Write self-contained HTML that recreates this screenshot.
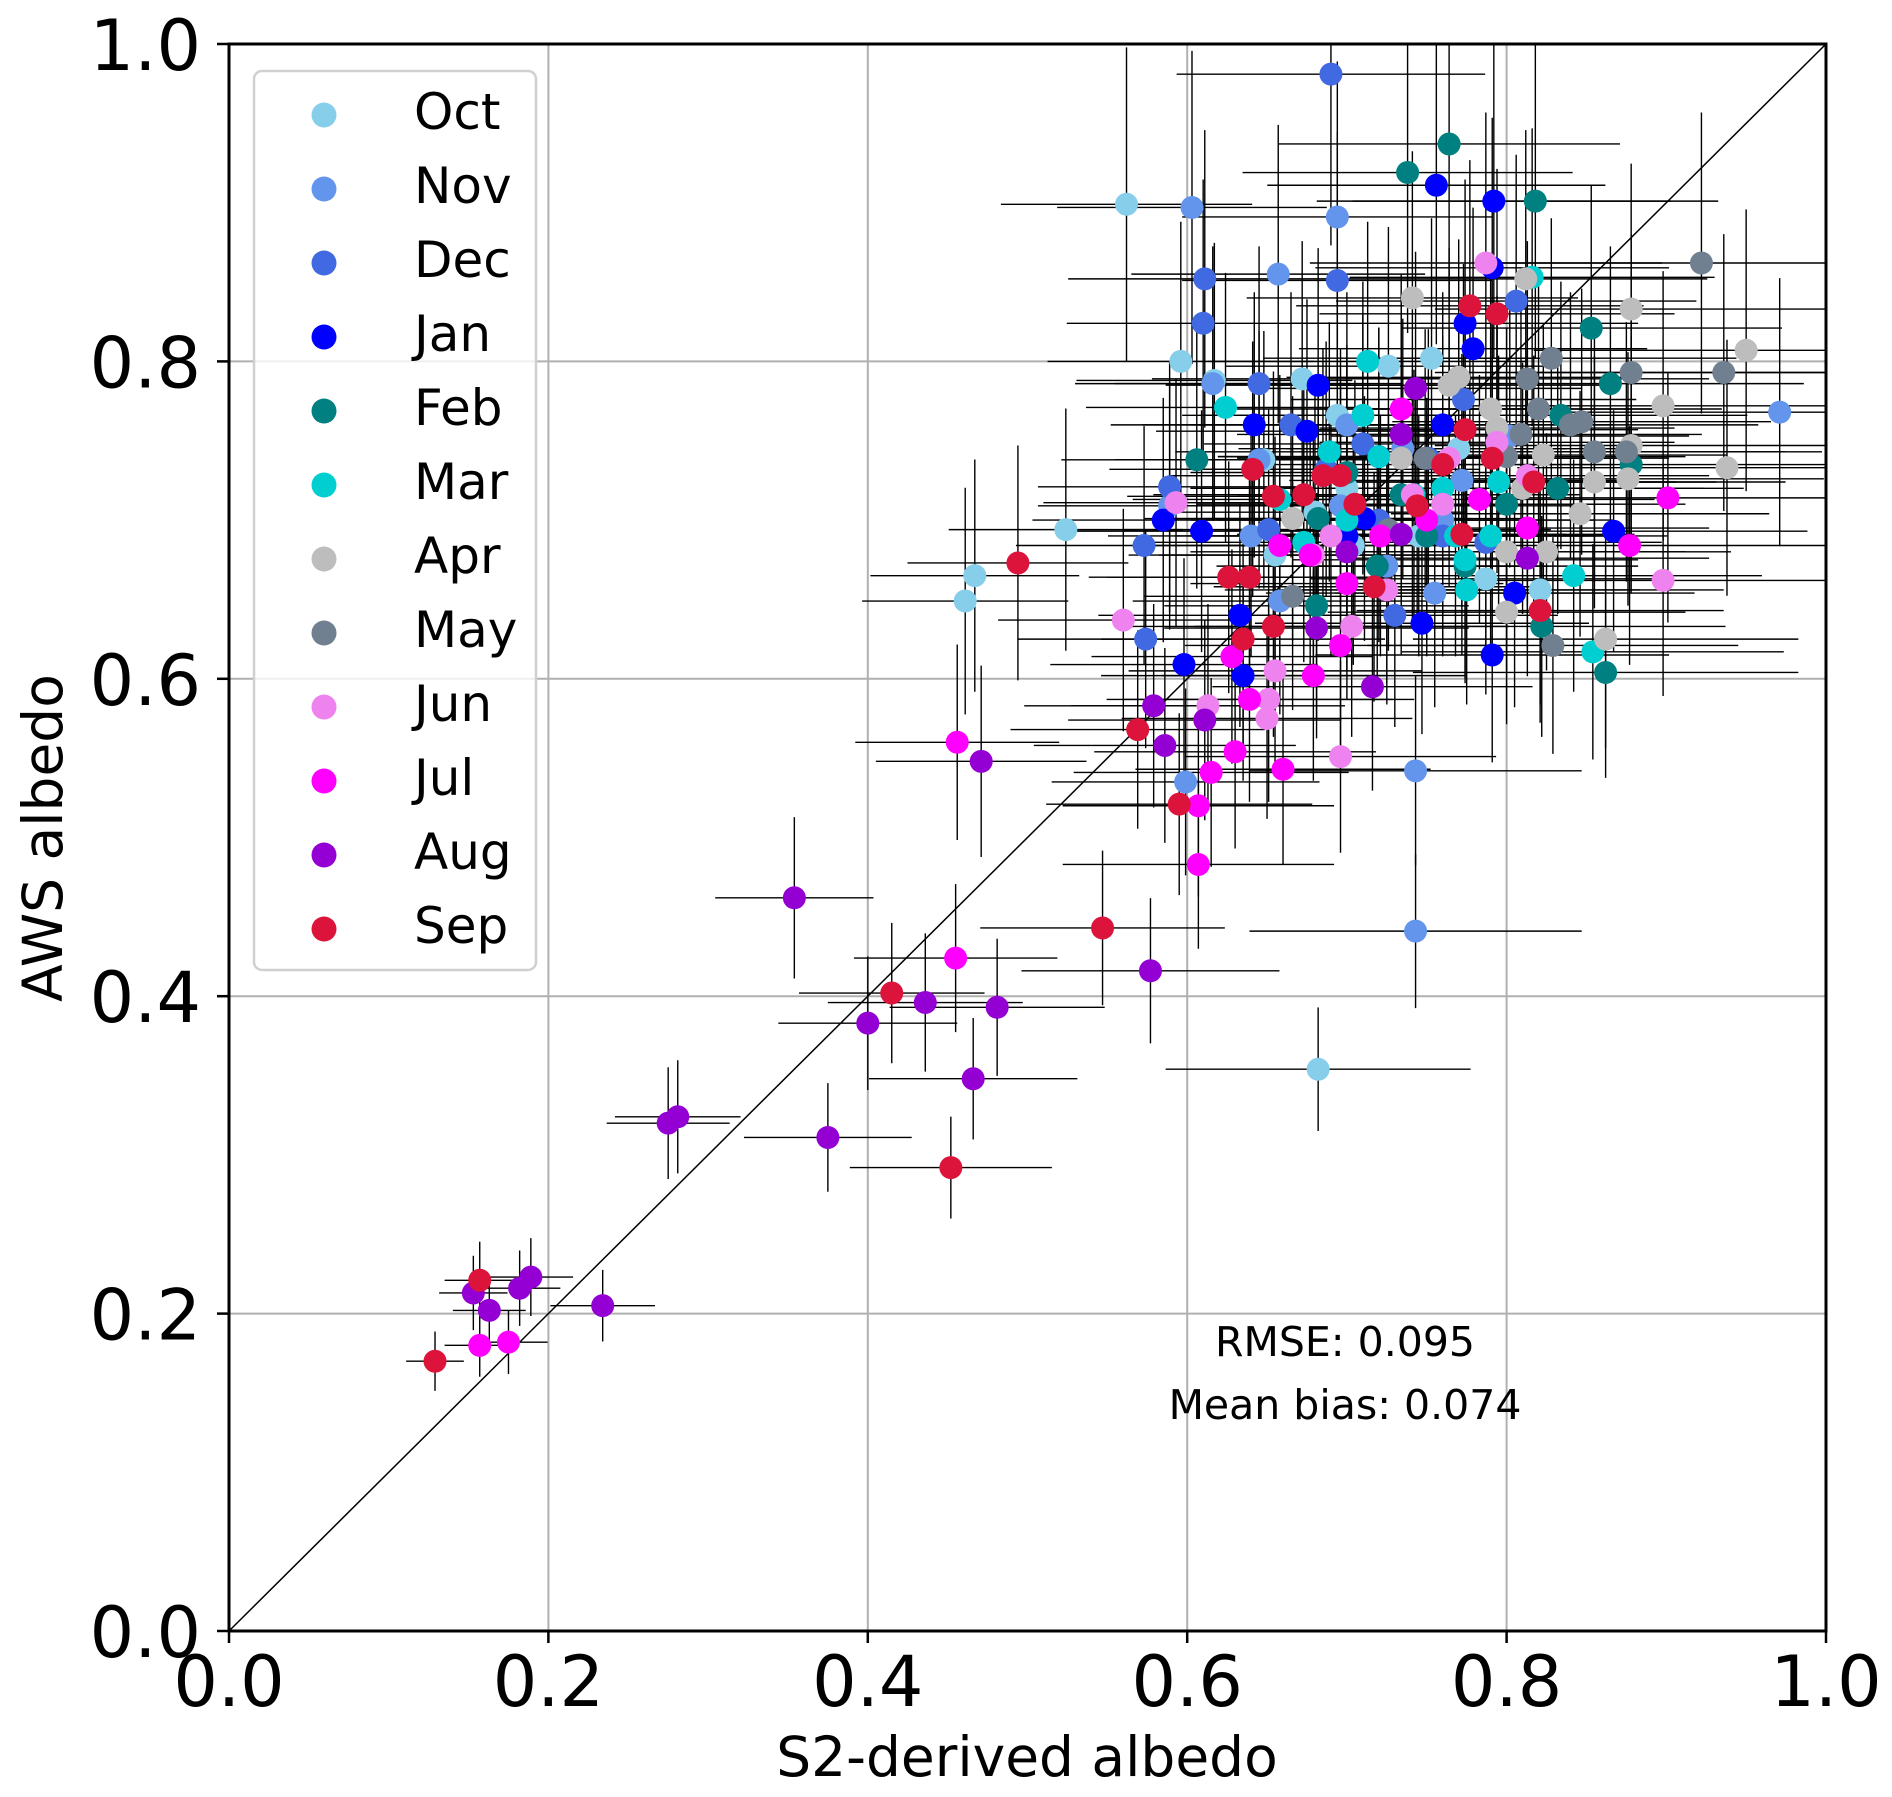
<!DOCTYPE html>
<html><head><meta charset="utf-8"><style>
html,body{margin:0;padding:0;background:#fff;}
svg{display:block;font-family:"DejaVu Sans","Liberation Sans",sans-serif;}
</style></head><body>
<svg id="chart" width="1892" height="1797" viewBox="0 0 1892 1797" xmlns="http://www.w3.org/2000/svg">
<g id="grid"></g>
<g id="errs"></g>
<line id="oneline" stroke="#000" stroke-width="1.5"/>
<g id="pts"></g>
<g id="axes"></g>
<g id="legend"></g>
<text x="1345" y="1356" font-size="41" text-anchor="middle">RMSE: 0.095</text>
<text x="1345" y="1419" font-size="41" text-anchor="middle">Mean bias: 0.074</text>
<text x="1027" y="1776" font-size="55" text-anchor="middle">S2-derived albedo</text>
<text x="0" y="0" font-size="55" text-anchor="middle" transform="translate(62,838) rotate(-90)">AWS albedo</text>
</svg>
<script>
const months = ["Oct","Nov","Dec","Jan","Feb","Mar","Apr","May","Jun","Jul","Aug","Sep"];
const colors = ["#87CEEB","#6495ED","#4169E1","#0000FF","#008080","#00CED1","#BDBDBD","#708090","#EE82EE","#FF00FF","#9400D3","#DC143C"];
const xTicks = [0,0.2,0.4,0.6,0.8,1.0];
const yTicks = [0,0.2,0.4,0.6,0.8,1.0];
const tickLabels = ["0.0","0.2","0.4","0.6","0.8","1.0"];
const octPts = [[.562,.899],[.524,.694],[.467,.665],[.461,.649],[.682,.354],[.596,.800],[.617,.788],[.672,.789],[.694,.766],[.726,.797],[.753,.802],[.821,.656],[.787,.663],[.655,.678],[.648,.738],[.704,.684],[.700,.720],[.745,.690],[.770,.745],[.680,.705]];
const novPts = [[.603,.897],[.657,.855],[.694,.891],[.971,.768],[.743,.542],[.743,.441],[.599,.535],[.616,.786],[.645,.738],[.696,.709],[.725,.671],[.755,.654],[.772,.725],[.802,.753],[.589,.709],[.658,.649],[.700,.760],[.760,.700],[.640,.690],[.735,.745]];
const decPts = [[.690,.981],[.611,.852],[.610,.824],[.694,.851],[.574,.625],[.573,.684],[.589,.721],[.645,.786],[.710,.748],[.773,.776],[.806,.838],[.787,.686],[.730,.640],[.651,.694],[.751,.739],[.687,.732],[.720,.700],[.665,.760],[.760,.690]];
const janPts = [[.756,.911],[.792,.901],[.791,.859],[.774,.824],[.682,.785],[.675,.756],[.642,.760],[.585,.700],[.609,.693],[.598,.609],[.633,.640],[.711,.701],[.791,.615],[.747,.635],[.805,.654],[.867,.693],[.635,.602],[.779,.808],[.720,.740],[.700,.690],[.760,.760]];
const febPts = [[.738,.919],[.764,.937],[.818,.901],[.853,.821],[.865,.786],[.862,.604],[.834,.766],[.822,.633],[.681,.646],[.606,.738],[.682,.701],[.734,.716],[.774,.671],[.878,.735],[.832,.720],[.719,.671],[.700,.730],[.750,.690],[.800,.710]];
const marPts = [[.816,.853],[.624,.771],[.710,.766],[.713,.800],[.842,.665],[.854,.617],[.795,.724],[.742,.716],[.774,.675],[.689,.743],[.658,.713],[.768,.690],[.775,.656],[.673,.686],[.720,.740],[.760,.720],[.700,.700],[.790,.690]];
const aprPts = [[.741,.840],[.812,.852],[.878,.833],[.950,.807],[.898,.772],[.938,.733],[.862,.625],[.800,.642],[.823,.741],[.855,.724],[.846,.704],[.878,.747],[.764,.785],[.794,.758],[.666,.701],[.734,.739],[.825,.680],[.876,.726],[.790,.770],[.810,.720],[.770,.790],[.800,.680]];
const mayPts = [[.922,.862],[.936,.793],[.878,.793],[.828,.802],[.813,.789],[.847,.762],[.829,.621],[.875,.743],[.749,.739],[.666,.652],[.809,.754],[.726,.694],[.855,.743],[.840,.760],[.800,.740],[.820,.770]];
const junPts = [[.787,.862],[.560,.637],[.593,.711],[.696,.551],[.655,.605],[.650,.575],[.794,.749],[.679,.678],[.764,.739],[.725,.656],[.898,.662],[.813,.728],[.613,.583],[.703,.633],[.741,.716],[.651,.587],[.690,.690],[.760,.710]];
const julPts = [[.456,.560],[.455,.424],[.607,.483],[.615,.541],[.639,.587],[.630,.554],[.660,.543],[.679,.602],[.696,.621],[.721,.690],[.901,.714],[.877,.684],[.734,.770],[.783,.713],[.813,.695],[.658,.684],[.628,.614],[.677,.678],[.157,.180],[.175,.182],[.607,.520],[.700,.660],[.750,.700]];
const augPts = [[.354,.462],[.400,.383],[.436,.396],[.481,.393],[.466,.348],[.471,.548],[.375,.311],[.275,.320],[.281,.324],[.234,.205],[.153,.213],[.163,.202],[.182,.216],[.189,.223],[.577,.416],[.579,.583],[.586,.558],[.611,.574],[.716,.595],[.681,.632],[.743,.783],[.734,.691],[.813,.676],[.734,.754],[.700,.680]];
const sepPts = [[.494,.673],[.415,.402],[.547,.443],[.452,.292],[.157,.221],[.129,.170],[.595,.521],[.569,.568],[.641,.732],[.654,.715],[.673,.716],[.696,.728],[.777,.835],[.794,.830],[.774,.757],[.791,.739],[.817,.724],[.821,.643],[.626,.664],[.639,.664],[.654,.633],[.717,.658],[.744,.709],[.772,.691],[.635,.625],[.685,.728],[.760,.735],[.705,.710]];
const series = [octPts,novPts,decPts,janPts,febPts,marPts,aprPts,mayPts,junPts,julPts,augPts,sepPts];

const X0=229,X1=1826,Y0=1631,Y1=44;
const sx = v => X0 + v*(X1-X0);
const sy = v => Y0 - v*(Y0-Y1);
const NS="http://www.w3.org/2000/svg";
function mk(tag, attrs, parent){const e=document.createElementNS(NS,tag);for(const k in attrs)e.setAttribute(k,attrs[k]);parent.appendChild(e);return e;}

const grid=document.getElementById('grid');
xTicks.forEach((t,i)=>{
  const l=mk('line',{x1:sx(t),x2:sx(t),y1:Y0,y2:Y1,stroke:'#b0b0b0','stroke-width':2},grid);
  
  
});
yTicks.forEach((t,i)=>{
  const l=mk('line',{x1:X0,x2:X1,y1:sy(t),y2:sy(t),stroke:'#b0b0b0','stroke-width':2},grid);
  
  
});

const ol=document.getElementById('oneline');
ol.setAttribute('x1',sx(0));ol.setAttribute('y1',sy(0));ol.setAttribute('x2',sx(1));ol.setAttribute('y2',sy(1));

const errs=document.getElementById('errs');
const pts=document.getElementById('pts');
series.forEach((arr,m)=>{
  arr.forEach(p=>{
    const ex=0.14*p[0], ey=0.11*p[1];
    const h=mk('line',{x1:sx(Math.max(0,p[0]-ex)),x2:sx(Math.min(1,p[0]+ex)),y1:sy(p[1]),y2:sy(p[1]),stroke:'#000','stroke-width':1.4},errs);
    
    
    const v=mk('line',{x1:sx(p[0]),x2:sx(p[0]),y1:sy(Math.max(0,p[1]-ey)),y2:sy(Math.min(1,p[1]+ey)),stroke:'#000','stroke-width':1.4},errs);
    
    
  });
});
series.forEach((arr,m)=>{
  arr.forEach(p=>{
    const c=mk('circle',{cx:sx(p[0]),cy:sy(p[1]),r:11.5,fill:colors[m]},pts);
    
    
  });
});

const axes=document.getElementById('axes');
const fr=mk('rect',{x:X0,y:Y1,width:X1-X0,height:Y0-Y1,fill:'none',stroke:'#000','stroke-width':3},axes);


xTicks.forEach((t,i)=>{
  mk('line',{x1:sx(t),x2:sx(t),y1:Y0,y2:Y0+12,stroke:'#000','stroke-width':2.5},axes);
  const tx=mk('text',{x:sx(t),y:1706,'font-size':70,'text-anchor':'middle'},axes);
  tx.textContent=tickLabels[i];
  
  
});
yTicks.forEach((t,i)=>{
  mk('line',{x1:X0-12,x2:X0,y1:sy(t),y2:sy(t),stroke:'#000','stroke-width':2.5},axes);
  const tx=mk('text',{x:201,y:sy(t)+26,'font-size':70,'text-anchor':'end'},axes);
  tx.textContent=tickLabels[i];
  
  
});

const lg=document.getElementById('legend');
const box=mk('rect',{x:254,y:71,width:282,height:899,rx:8,fill:'#fff','fill-opacity':0.8,stroke:'#d0d0d0','stroke-width':2.5},lg);


months.forEach((mn,i)=>{
  const g=mk('g',{},lg);
  
  
  mk('circle',{cx:324,cy:115+i*74,r:12.5,fill:colors[i]},g);
  const t=mk('text',{x:414,y:129+i*74,'font-size':50},g);
  t.textContent=mn;
});
</script>
</body></html>
